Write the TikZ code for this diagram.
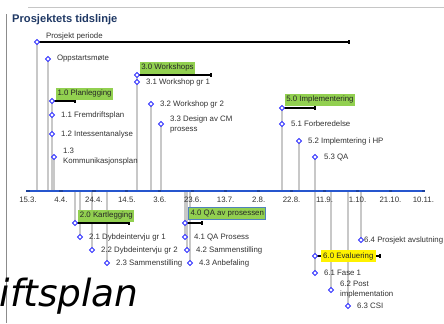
\documentclass[tikz,border=0pt]{standalone}
\usepackage{fontspec}
\setmainfont{Liberation Sans}
\newfontfamily\bigfont{DejaVu Sans}
\usepackage{tikz}
\usetikzlibrary{shapes.geometric, arrows.meta}
\usepackage{xcolor}
\definecolor{titleblue}{RGB}{31,56,100}
\definecolor{axisblue}{RGB}{38,86,206}
\definecolor{mkblue}{RGB}{45,45,255}
\definecolor{stemgray}{RGB}{200,200,200}
\definecolor{phasegreen}{RGB}{146,208,80}
\definecolor{framegray}{RGB}{140,140,140}
\definecolor{txtgray}{RGB}{50,50,50}
\definecolor{boxblue}{RGB}{79,129,189}

\tikzset{
  mk/.style={diamond, draw=mkblue, fill=white, line width=0.7pt, minimum size=4.6pt, inner sep=0pt},
  stem/.style={stemgray, line width=1pt},
  bar/.style={black, line width=1.2pt, -{Rectangle[length=1.6pt,width=3.6pt]}},
  lbl/.style={anchor=west, inner sep=0pt, align=left, text=txtgray, font=\fontsize{6.7}{8.5}\selectfont},
  phase/.style={fill=phasegreen, inner xsep=1.5pt, inner ysep=2pt, text=black!85, font=\fontsize{6.7}{8}\selectfont},
  datelbl/.style={inner sep=0pt, text=txtgray, font=\fontsize{6.7}{8}\selectfont}
}

\begin{document}
\begin{tikzpicture}[x=0.03cm, y=-0.03cm]
    \useasboundingbox (0,0) rectangle (444,323);
    % frame and title
    \draw[gray!45, line width=0.8pt] (28,7) -- (444,7);
    \draw[framegray, line width=0.8pt] (6,14) -- (6,323);
    \node[anchor=west, inner sep=0pt, text=titleblue, font=\bfseries\fontsize{9.5}{11}\selectfont] (title) at (12,19.5) {Prosjektets tidslinje};

    \coordinate (ax) at (27,191);
    \coordinate (axend) at (423,191);

    % phases: name/x/y/end of bar
    \def\phases{pp/37/42/350, p10/52/101/76, p30/137/75/212, p50/282/108/316,
                p20/75/223/130, p40/185/223/203, p60/315/256/381}
    % activities: name/x/y/label offset/label
    \def\items{s0/48/59/7.5/Oppstartsmøte, s11/52/115/7.5/1.1 Fremdriftsplan,
               s12/52/134/7.5/1.2 Intessentanalyse, s13/54/157/7.5/{1.3\\Kommunikasjonsplan},
               s31/137/82/7.5/3.1 Workshop gr 1, s32/151/104/7.5/3.2 Workshop gr 2,
               s33/161/124/7.5/{3.3 Design av CM\\prosess},
               s51/282/124/7.5/5.1 Forberedelse, s52/299/141/7.5/5.2 Implemtering i HP,
               s53/315/157/7.5/5.3 QA,
               s21/80/237/7.5/2.1 Dybdeintervju gr 1, s22/92/250/7.5/2.2 Dybdeintervju gr 2,
               s23/107/263/7.5/2.3 Sammenstilling,
               s41/185/237/7.5/4.1 QA Prosess, s42/187/250/7.5/4.2 Sammenstilling,
               s43/190/263/7.5/4.3 Anbefaling,
               s61/315/273/7.5/6.1 Fase 1, s62/331/290/7.5/{6.2 Post\\implementation},
               s63/348/306/7.5/6.3 CSI, s64/361/240/2.5/6.4 Prosjekt avslutning}

    % stems
    \foreach \n/\x/\y/\e in \phases {
        \coordinate (\n) at (\x,\y);
        \coordinate (\n-e) at (\e,\y);
        \draw[stem] (\n) -- (\n |- ax);
    }
    \foreach \n/\x/\y/\o/\t in \items {
        \coordinate (\n) at (\x,\y);
        \draw[stem] (\n) -- (\n |- ax);
    }

    % time axis
    \draw[axisblue, line width=2pt, line cap=round] (ax) -- (axend);
    \foreach \d [count=\i from 0] in {15.3.,4.4.,24.4.,14.5.,3.6.,23.6.,13.7.,2.8.,22.8.,11.9.,1.10.,21.10.,10.11.} {
        \fill[axisblue!75!black] ({28+32.95*\i},191) ++(-1.6,-1.4) rectangle ++(3.2,2.8);
        \node[datelbl] (d\i) at ({28+32.95*\i},200) {\d};
    }

    % bars and phase boxes
    \foreach \n/\x/\y/\e in \phases {
        \draw[bar] (\n) -- (\n-e);
    }
    \node[lbl, anchor=south west] (lpp) at ([xshift=7.5pt,yshift=1.5pt]pp) {Prosjekt periode};
    \node[phase, anchor=south west] (b10) at ([xshift=3pt,yshift=1pt]p10) {1.0 Planlegging};
    \node[phase, anchor=south west] (b30) at ([xshift=2pt,yshift=1pt]p30) {3.0 Workshops};
    \node[phase, anchor=south west] (b50) at ([xshift=2pt,yshift=1.6pt]p50) {5.0 Implementering};
    \node[phase, anchor=south west] (b20) at ([xshift=2.5pt,yshift=1pt]p20) {2.0 Kartlegging};
    \node[phase, anchor=south west, draw=boxblue, line width=1pt] (b40) at ([xshift=2.8pt,yshift=2.5pt]p40) {4.0 QA av prosessen};
    \node[phase, fill=yellow, anchor=west, inner xsep=2pt] (b60) at ([xshift=4.8pt]p60) {6.0 Evaluering};

    % markers and labels
    \foreach \n/\x/\y/\e in \phases {
        \node[mk] (m\n) at (\n) {};
    }
    \foreach \n/\x/\y/\o/\t in \items {
        \node[mk] (m\n) at (\n) {};
        \node[lbl] (l\n) at ([xshift=\o pt]\n) {\t};
    }

    \node[anchor=base west, inner sep=0pt, font=\bigfont\itshape\fontsize{32}{36}\selectfont] (big) at (-0.5,306) {iftsplan};
\end{tikzpicture}
\end{document}
